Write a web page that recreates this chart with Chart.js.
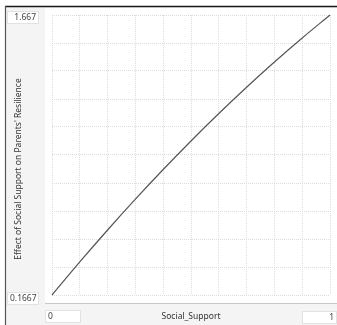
<!DOCTYPE html>
<html>
<head>
<meta charset="utf-8">
<script src="https://cdn.jsdelivr.net/npm/chart.js@4/dist/chart.umd.min.js"></script>
<style>
  html, body { margin: 0; padding: 0; background: #fff; }
  #wrap { width: 337px; height: 325px; }
</style>
</head>
<body>
<div id="wrap"><canvas id="c" width="337" height="325"></canvas></div>
<script>
// values
const xValues = [0, 0.1, 0.2, 0.3, 0.4, 0.5, 0.6, 0.7, 0.8, 0.9, 1];
const yValues = [0.1667, 0.344, 0.515, 0.680, 0.839, 0.992, 1.139, 1.280, 1.415, 1.544, 1.667];
const xTickLabels = ['0', '1'];
const yTickLabels = ['0.1667', '1.667'];
const xTitle = 'Social_Support';
const yTitle = "Effect of Social Support on Parents' Resilience";

const FONT = '"Noto Sans", "Open Sans", sans-serif';

// backgrounds, frame and the little value boxes
const framePlugin = {
  id: 'frame',
  beforeDraw(chart) {
    const ctx = chart.ctx;
    ctx.save();
    ctx.fillStyle = '#ffffff';
    ctx.fillRect(0, 0, chart.width, chart.height);
    ctx.fillStyle = '#f4f4f4';
    ctx.fillRect(6, 7, chart.width - 6, chart.height - 7);
    ctx.fillStyle = '#ffffff';
    ctx.fillRect(45, 8, chart.width - 45, 296);
    // separator under the plot
    ctx.strokeStyle = '#c8c8c8';
    ctx.lineWidth = 1;
    ctx.beginPath();
    ctx.moveTo(45, 303.5);
    ctx.lineTo(chart.width, 303.5);
    ctx.stroke();
    // dark frame top and left
    ctx.strokeStyle = '#1a1a1a';
    ctx.lineWidth = 1.5;
    ctx.beginPath();
    ctx.moveTo(5, 6.5);
    ctx.lineTo(chart.width, 6.5);
    ctx.stroke();
    ctx.strokeStyle = '#555555';
    ctx.lineWidth = 1.2;
    ctx.beginPath();
    ctx.moveTo(5.5, 6);
    ctx.lineTo(5.5, chart.height);
    ctx.stroke();
    ctx.restore();
  },
  afterDraw(chart) {
    const ctx = chart.ctx;
    const xs = chart.scales.x;
    const ys = chart.scales.y;
    const box = (x, y, w, h) => {
      ctx.fillStyle = '#ffffff';
      ctx.fillRect(x, y, w, h);
      ctx.strokeStyle = '#e2e2e2';
      ctx.lineWidth = 1;
      ctx.strokeRect(x + 0.5, y + 0.5, w - 1, h - 1);
    };
    ctx.save();
    ctx.font = '8.5px ' + FONT;
    ctx.textBaseline = 'middle';

    // y min / max
    const yTop = ys.getPixelForValue(ys.max);
    const yBot = ys.getPixelForValue(ys.min);
    box(7, yTop - 4, 32, 13);
    box(7, yBot - 3, 32, 13);
    ctx.fillStyle = '#444';
    ctx.textAlign = 'right';
    ctx.fillText(yTickLabels[1], 36, yTop + 2.5);
    ctx.textAlign = 'left';
    ctx.fillText(yTickLabels[0], 10, yBot + 3.5);

    // x min / max
    const xL = xs.getPixelForValue(xs.min);
    const xR = xs.getPixelForValue(xs.max);
    box(xL - 7, 310, 36, 13);
    box(xR - 28, 311, 35, 13);
    ctx.fillStyle = '#444';
    ctx.textAlign = 'left';
    ctx.fillText(xTickLabels[0], xL - 4, 316.5);
    ctx.textAlign = 'right';
    ctx.fillText(xTickLabels[1], xR + 4, 317.5);

    // titles
    ctx.fillStyle = '#333';
    ctx.textAlign = 'center';
    ctx.fillText(xTitle, (xL + xR) / 2, 317);
    ctx.translate(19, 169);
    ctx.rotate(-Math.PI / 2);
    ctx.fillText(yTitle, 0, 0);
    ctx.restore();
  }
};

const gridOpts = {
  color: '#dcdcdc',
  lineWidth: 1,
  drawTicks: false
};

new Chart(document.getElementById('c'), {
  type: 'line',
  data: {
    datasets: [{
      data: xValues.map((x, i) => ({ x: x, y: yValues[i] })),
      borderColor: '#555555',
      borderWidth: 1.2,
      pointRadius: 0,
      cubicInterpolationMode: 'monotone',
      clip: false
    }]
  },
  options: {
    responsive: false,
    animation: false,
    events: [],
    layout: { padding: { left: 52, right: 7, top: 15, bottom: 30 } },
    plugins: { legend: { display: false }, tooltip: { enabled: false } },
    scales: {
      x: {
        type: 'linear',
        min: xValues[0],
        max: xValues[xValues.length - 1],
        ticks: { display: false, count: 11 },
        grid: gridOpts,
        border: { display: false, dash: [1, 1] },
        afterFit(s) { s.height = 0; }
      },
      y: {
        type: 'linear',
        min: yValues[0],
        max: yValues[yValues.length - 1],
        ticks: { display: false, count: 11 },
        grid: gridOpts,
        border: { display: false, dash: [1, 1] },
        afterFit(s) { s.width = 0; }
      }
    }
  },
  plugins: [framePlugin]
});
</script>
</body>
</html>
